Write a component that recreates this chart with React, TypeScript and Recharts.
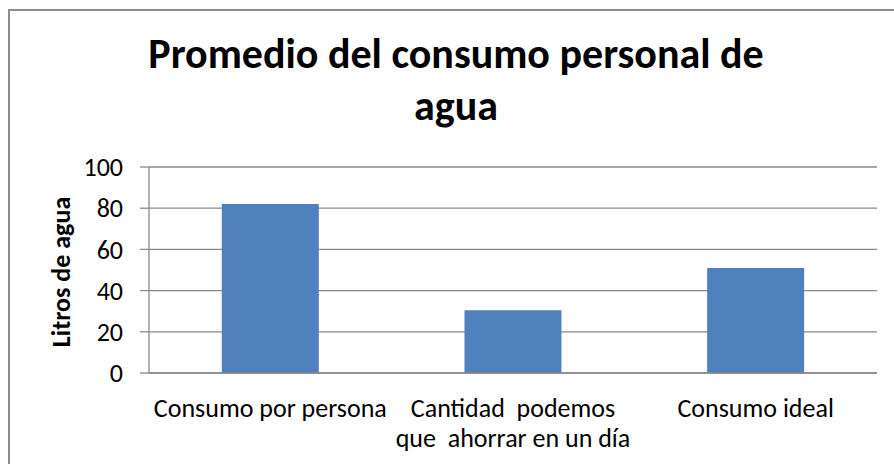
import React from 'react';
import { BarChart, Bar, XAxis, YAxis, CartesianGrid } from 'recharts';

const categories = ['Consumo por persona', 'Cantidad  podemos\nque  ahorrar en un día', 'Consumo ideal'];
const litros = [82, 30.5, 51];
const yTicks = [0, 20, 40, 60, 80, 100];
const titleLines = ['Promedio del consumo personal de', 'agua'];
const yLabel = 'Litros de agua';

const data = categories.map((c, i) => ({ name: c, value: litros[i] }));

const FONT = 'Carlito, Calibri, Lato, sans-serif';
const GRID = '#8a8a8a';

const XTick = (props: any) => {
  const { x, y, payload } = props;
  const lines = String(payload.value).split('\n');
  return (
    <text x={x} y={y} textAnchor="middle" fontFamily={FONT} fontSize={26} fill="#000" style={{ whiteSpace: 'pre' }}>
      {lines.map((l, i) => (
        <tspan key={i} x={x} dy={i === 0 ? 44 : 30}>{l}</tspan>
      ))}
    </text>
  );
};

export default function App() {
  return (
    <div style={{ position: 'absolute', left: 0, top: 0, width: 894, height: 464, overflow: 'hidden', background: '#fff' }}>
      <div style={{ position: 'absolute', left: 8, top: 9, width: 920, height: 500, border: '2px solid #8c8c8c', boxSizing: 'border-box' }} />
      <div style={{ position: 'absolute', left: 0, top: 0 }}>
        <BarChart width={894} height={464} data={data} margin={{ top: 167, right: 17, bottom: 0, left: 49 }} barCategoryGap="30%">
          <CartesianGrid vertical={false} stroke={GRID} strokeWidth={1.3} />
          <XAxis dataKey="name" height={91} axisLine={{ stroke: GRID, strokeWidth: 1.3 }} tickLine={false} tickSize={0} tickMargin={0} tick={<XTick />} interval={0} />
          <YAxis width={100} domain={[0, 100]} ticks={yTicks} axisLine={{ stroke: GRID, strokeWidth: 1.3 }} tickLine={{ stroke: GRID, strokeWidth: 1.3 }} tickSize={9} tickMargin={17} tick={{ fill: '#000', fontSize: 26, fontFamily: FONT }} />
          <Bar dataKey="value" fill="#4f81bd" isAnimationActive={false} />
        </BarChart>
      </div>
      <svg width={894} height={464} style={{ position: 'absolute', left: 0, top: 0, pointerEvents: 'none' }}>
        <text x={456} y={68} textAnchor="middle" fontFamily={FONT} fontWeight="bold" fontSize={42} fill="#000">{titleLines[0]}</text>
        <text x={456} y={120} textAnchor="middle" fontFamily={FONT} fontWeight="bold" fontSize={42} fill="#000">{titleLines[1]}</text>
        <text x={0} y={0} transform="translate(70,272) rotate(-90)" textAnchor="middle" fontFamily={FONT} fontWeight="bold" fontSize={26} fill="#000">{yLabel}</text>
      </svg>
    </div>
  );
}
